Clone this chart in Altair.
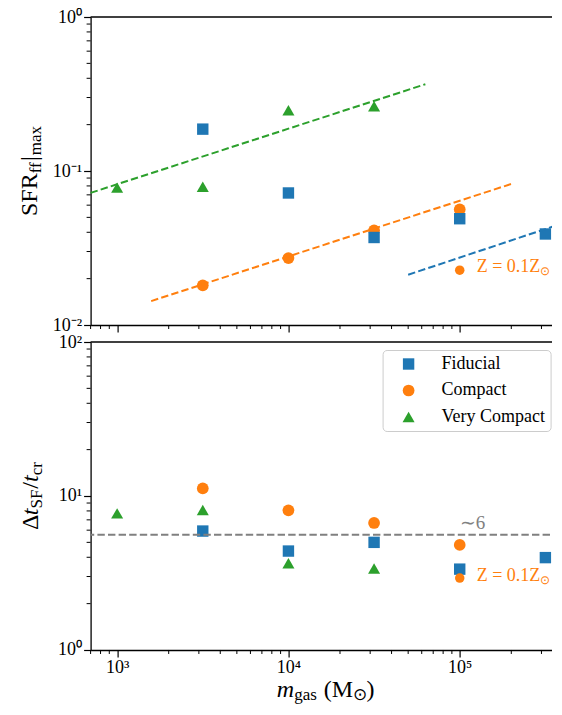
import altair as alt
import pandas as pd

SERIF = "Liberation Serif"

# ---------------- data ----------------
masses = [1e3, 3162, 1e4, 31623, 1e5, 316228]
series_names = ["Fiducial", "Compact", "Very Compact"]
series_colors = ["#1f77b4", "#ff7f0e", "#2ca02c"]
series_shapes = ["square", "circle", "triangle-up"]
series_marker_area = [130, 145, 180]
draw_order = ["Compact", "Fiducial", "Very Compact"]

fiducial_sfr = [None, 0.187, 0.072, 0.037, 0.049, 0.039]
compact_sfr = [None, 0.0181, 0.0272, 0.0412, 0.0563, None]
vcompact_sfr = [0.078, 0.079, 0.248, 0.263, None, None]

fiducial_dt = [None, 5.92, 4.39, 5.0, 3.35, 3.98]
compact_dt = [None, 11.2, 8.07, 6.68, 4.81, None]
vcompact_dt = [7.71, 8.11, 3.66, 3.38, None, None]

lowz_mass = [1e5]
lowz_sfr = [0.0227]
lowz_dt = [2.93]
lowz_label = "Z = 0.1Z"
lowz_sub = "\u2299"

fit_x_start = [5.0e4, 1.58e3, 700]
fit_x_end = [3.88e5, 2.0e5, 6.3e4]
fit_y_start = [0.0212, 0.0143, 0.0721]
fit_y_end = [0.0453, 0.0824, 0.366]

typical_ratio = [5.6]
typical_label = ["\u223c6"]

x_major = [1e3, 1e4, 1e5]
x_major_labels = ["10\u00b3", "10\u2074", "10\u2075"]
top_y_major = [0.01, 0.1, 1]
top_y_labels = ["10\u207b\u00b2", "10\u207b\u00b9", "10\u2070"]
bot_y_major = [1, 10, 100]
bot_y_labels = ["10\u2070", "10\u00b9", "10\u00b2"]

X_DOMAIN = [700, 3.88e5]
x_minor = [k * 10 ** e for e in (2, 3, 4, 5) for k in range(2, 10)
           if X_DOMAIN[0] <= k * 10 ** e <= X_DOMAIN[1]]
top_y_minor = [k * 10.0 ** e for e in (-2, -1) for k in range(2, 10)]
bot_y_minor = [k * 10.0 ** e for e in (0, 1) for k in range(2, 10)]

# ---------------- tables ----------------
sfr = {"Fiducial": fiducial_sfr, "Compact": compact_sfr, "Very Compact": vcompact_sfr}
dts = {"Fiducial": fiducial_dt, "Compact": compact_dt, "Very Compact": vcompact_dt}
rows = []
for s in draw_order:
    for m, a, b in zip(masses, sfr[s], dts[s]):
        rows.append({"series": s, "mass": m, "sfr": a, "dt": b})
df = pd.DataFrame(rows)
top_df = df.dropna(subset=["sfr"])
bot_df = df.dropna(subset=["dt"])

fit_rows = []
for s, x0, x1, y0, y1 in zip(series_names, fit_x_start, fit_x_end, fit_y_start, fit_y_end):
    fit_rows.append({"series": s, "x": x0, "y": y0})
    fit_rows.append({"series": s, "x": x1, "y": y1})
fit_df = pd.DataFrame(fit_rows)

lowz_df = pd.DataFrame({"mass": lowz_mass, "sfr": lowz_sfr, "dt": lowz_dt})
typ_df = pd.DataFrame({"ratio": typical_ratio, "label": typical_label, "mass": [1e5]})
one = pd.DataFrame({"a": [0]})

# ---------------- layout ----------------
W, H = 470, 308
XT_BASE = H + 47  # baseline of x title below bottom panel top
TICK_FONT = 18
xs = alt.Scale(type="log", domain=X_DOMAIN, nice=False)
ys_top = alt.Scale(type="log", domain=[0.01, 1], nice=False)
ys_bot = alt.Scale(type="log", domain=[1, 100], nice=False)
cs = alt.Scale(domain=series_names, range=series_colors)
ss = alt.Scale(domain=series_names, range=series_shapes)
zs = alt.Scale(domain=series_names, range=series_marker_area)


def label_expr(values, labels):
    expr = "''"
    for v, l in zip(values[::-1], labels[::-1]):
        expr = f"datum.value == {v} ? '{l}' : ({expr})"
    return expr


def make_axis(values, labels, show_labels=True):
    return alt.Axis(values=values, labelExpr=label_expr(values, labels), labels=show_labels,
                    title=None, grid=False, tickSize=7, tickWidth=1.2, tickColor="black",
                    domainColor="black", domainWidth=1.3, labelFont=SERIF, labelFontSize=TICK_FONT,
                    labelColor="black", labelPadding=2, labelFlush=False, labelOverlap=False)


REG = {"S": .556, "F": .556, "R": .667, "f": .333, "|": .2, "m": .778, "a": .444, "x": .5,
       " ": .25, "(": .333, ")": .333, "M": .889, "g": .5, "s": .389, "/": .278, "c": .444,
       "r": .333, "Z": .611, "=": .564, "0": .5, ".": .25, "1": .5, "\u2299": .78,
       "\u0394": .612, "t": .278}
ITA = {"m": .722, "t": .278}


def tw(s, size, style="normal"):
    tab = ITA if style == "italic" else REG
    return sum(tab.get(c, REG.get(c, .5)) for c in s) * size


def title_layers(pieces, angle, base, center):
    # pieces: (text, size, style, baseline shift, gap before)
    total = sum(tw(t, sz, st) + gap for t, sz, st, _, gap in pieces)
    layers = []
    pos = 0
    for t, sz, st, shift, gap in pieces:
        pos += gap
        if angle == 0:
            px, py = center - total / 2 + pos, base + shift
        else:
            px, py = base + shift, center + total / 2 - pos
        layers.append(alt.Chart(one).mark_text(
            text=t, font=SERIF, fontSize=sz, fontStyle=st, angle=angle, align="left",
            baseline="alphabetic", color="black").encode(x=alt.value(px), y=alt.value(py)))
        pos += tw(t, sz, st)
    return layers


def build_panel(yfield, yscale, ymajor, ylabels, yminor, show_xlabels, legend):
    xa = make_axis(x_major, x_major_labels, show_xlabels)
    ya = make_axis(ymajor, ylabels)
    X = lambda f: alt.X(f"{f}:Q", scale=xs, axis=xa)
    Y = lambda f: alt.Y(f"{f}:Q", scale=yscale, axis=ya)
    src = top_df if yfield == "sfr" else bot_df
    pts = alt.Chart(src).mark_point(filled=True, opacity=1).encode(
        x=X("mass"), y=Y(yfield),
        color=alt.Color("series:N", scale=cs, legend=legend),
        shape=alt.Shape("series:N", scale=ss, legend=legend),
        size=alt.Size("series:N", scale=zs, legend=None))
    lowz = alt.Chart(lowz_df).mark_point(filled=True, opacity=1, size=90, shape="circle",
                                         color=series_colors[1]).encode(x=X("mass"), y=Y(yfield))
    dy = -3 if yfield == "sfr" else -2
    lz_main = alt.Chart(lowz_df).mark_text(
        text=lowz_label, align="left", baseline="middle", dx=17, dy=dy, font=SERIF,
        fontSize=18, color=series_colors[1]).encode(x=X("mass"), y=Y(yfield))
    lz_sub = alt.Chart(lowz_df).mark_text(
        text=lowz_sub, align="left", baseline="middle", dx=17 + tw(lowz_label, 18),
        dy=dy + 4, font=SERIF, fontSize=12, color=series_colors[1]).encode(
        x=X("mass"), y=Y(yfield))
    xm = alt.Chart(pd.DataFrame({"v": x_minor})).mark_rule(color="black", strokeWidth=1).encode(
        x=X("v"), y=alt.value(H), y2=alt.value(H + 4))
    ym = alt.Chart(pd.DataFrame({"v": yminor})).mark_rule(color="black", strokeWidth=1).encode(
        y=Y("v"), x=alt.value(-4), x2=alt.value(0))
    spine = alt.Chart(one).mark_rule(color="black", strokeWidth=1.3).encode(
        x=alt.value(0), x2=alt.value(W), y=alt.value(0))
    return X, Y, [pts, lowz, lz_main, lz_sub, xm, ym, spine]


# ---------------- top panel ----------------
X, Y, top_common = build_panel("sfr", ys_top, top_y_major, top_y_labels, top_y_minor, False, None)
fit_lines = alt.Chart(fit_df).mark_line(strokeWidth=2, strokeDash=[7.4, 3.2]).encode(
    x=X("x"), y=Y("y"),
    color=alt.Color("series:N", scale=cs, legend=None),
    detail="series:N")
top_title = title_layers([("SFR", 24, "normal", 0, 0), ("ff", 17, "normal", 4, 0),
                          ("|", 24, "normal", 0, 1), ("max", 17, "normal", 4, 1)],
                         270, -54, H / 2)
top = alt.layer(top_common[0], fit_lines, *top_common[1:], *top_title).properties(width=W, height=H)

# ---------------- bottom panel ----------------
leg = alt.Legend(orient="none", legendX=292, legendY=8, title=None, labelFont=SERIF,
                 labelFontSize=18, labelColor="black", symbolSize=160, symbolStrokeWidth=0,
                 symbolOffset=12, labelOffset=24, padding=5, rowPadding=8.5,
                 fillColor="rgba(255,255,255,0.8)", strokeColor="#cccccc", cornerRadius=4)
Xb, Yb, bot_common = build_panel("dt", ys_bot, bot_y_major, bot_y_labels, bot_y_minor, True, leg)
typ_rule = alt.Chart(typ_df).mark_rule(color="#808080", strokeWidth=2, strokeDash=[7.4, 3.2]).encode(
    y=Yb("ratio"))
typ_text = alt.Chart(typ_df).mark_text(align="left", baseline="middle", dy=-12, font=SERIF,
                                       fontSize=19, color="#808080").encode(
    x=Xb("mass"), y=Yb("ratio"), text="label:N")
bot_ytitle = title_layers([("\u0394", 24, "normal", 0, 0), ("t", 24, "italic", 0, 0),
                           ("SF", 17, "normal", 4, 0), ("/", 24, "normal", 0, 1),
                           ("t", 24, "italic", 0, 0), ("cr", 17, "normal", 4, 0)],
                          270, -53, H / 2)
bot_xtitle = title_layers([("m", 24, "italic", 0, 0), ("gas", 17, "normal", 3, 0),
                           ("(", 24, "normal", 0, 7), ("M", 24, "normal", 0, 0),
                           ("\u2299", 17, "normal", 3, 0), (")", 24, "normal", 0, 0)],
                          0, XT_BASE, W / 2)
bottom = alt.layer(bot_common[0], typ_rule, typ_text, *bot_common[1:], *bot_ytitle, *bot_xtitle
                   ).properties(width=W, height=H)

chart = alt.vconcat(top, bottom, spacing=17, bounds="flush").resolve_legend(
    color="independent", shape="independent", size="independent").properties(
    padding={"left": 9.6, "top": 0, "right": -12.5, "bottom": 5}).configure_view(stroke=None)

chart.save("out.html", embed_options={"renderer": "svg", "actions": False})
